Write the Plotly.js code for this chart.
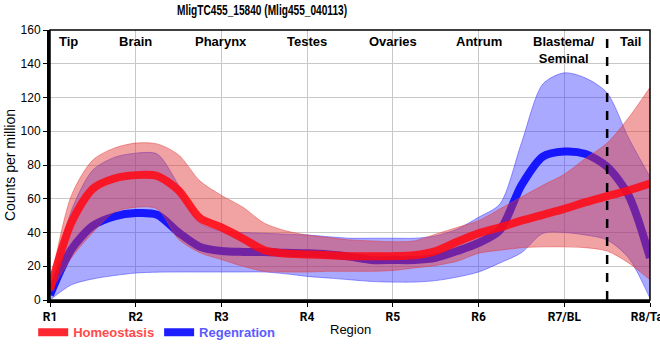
<!DOCTYPE html>
<html>
<head>
<meta charset="utf-8">
<script src="https://cdn.plot.ly/plotly-3.0.1.min.js"></script>
<style>html,body{margin:0;padding:0;background:#fff;}#chart{width:660px;height:360px;}</style>
</head>
<body>
<div id="chart"></div>
<script>
// Region positions (R1 = 0 ... R8 = 7) sampled along the curves
var xs = [0,0.25,0.5,0.75,1,1.25,1.5,1.75,2,2.25,2.5,2.75,3,3.25,3.5,3.75,4,4.25,4.5,4.75,5,5.25,5.5,5.75,6,6.25,6.5,6.75,7];
var tickLabels = ["R1","R2","R3","R4","R5","R6","R7/BL","R8/Tail"];
var regionNames = ["Tip","Brain","Pharynx","Testes","Ovaries","Antrum","Blastema/<br>Seminal","Tail"];
var regionPos = [0.21,1,2,3,4,5,6,6.77];
var xTitle = "Region";
var yTitle = "Counts per million";

var homMean  = [6,46,66,72,74,73.5,65,48.5,43,36.5,29.5,27.5,27,26.5,26,26,26,26.5,29,34.5,39.5,43,47,50.5,54,58,61.5,65,69];
var homUpper = [8,62,83,90,93,92.5,86,70.5,62,55,45.5,41,38.5,37,35.6,35,34.5,35,39,43,47,54,61,68,74.5,84,93,108,126];
var homLower = [4,25,40,52,55,54,36,28,24,20,17,16.6,16.6,17,17,17,17.5,19,20.5,23,27.7,29.5,31,31.5,31.5,31,29,22,12];

var regMean  = [3,30,44,49.5,51.5,50.5,40,31.5,29,28.5,28.5,28,27.7,27,25.7,23.7,23.7,23.7,25,29,33.8,41.5,68,85,88,86.5,79,62,25];
var regUpper = [4,53,77,84.5,87,86.5,68,45.6,41,40,39.5,39,38.5,37.5,36.6,36.6,36.6,36.6,38,42,49,57,93,128,134.6,131.5,122.7,96,73];
var regLower = [0,9,12.5,14.5,16,16.5,16.6,16.6,16.6,16.6,16.6,15.5,14,13,12,11,10.6,10.6,11.5,13.6,16.6,22,28,39.5,40,38.5,35.6,25,1];

var sm = 0.8;
var traces = [
  {x: xs, y: regLower, mode:'lines', line:{color:'rgba(60,60,255,0.5)', width:1, shape:'spline', smoothing:sm}, showlegend:false, hoverinfo:'skip'},
  {x: xs, y: regUpper, mode:'lines', fill:'tonexty', fillcolor:'rgba(50,50,255,0.42)', line:{color:'rgba(60,60,255,0.5)', width:1, shape:'spline', smoothing:sm}, showlegend:false, hoverinfo:'skip'},
  {x: xs, y: regMean, mode:'lines', name:'<span style="color:#5a5aff"><b>Regenration</b></span>', line:{color:'rgba(10,10,255,0.92)', width:8, shape:'spline', smoothing:sm}},
  {x: xs, y: homLower, mode:'lines', line:{color:'rgba(225,60,60,0.5)', width:1, shape:'spline', smoothing:sm}, showlegend:false, hoverinfo:'skip'},
  {x: xs, y: homUpper, mode:'lines', fill:'tonexty', fillcolor:'rgba(225,50,50,0.45)', line:{color:'rgba(225,60,60,0.5)', width:1, shape:'spline', smoothing:sm}, showlegend:false, hoverinfo:'skip'},
  {x: xs, y: homMean, mode:'lines', name:'<span style="color:#ff4a4a"><b>Homeostasis</b></span>', line:{color:'rgba(255,10,20,0.88)', width:8, shape:'spline', smoothing:sm}}
];

var annotations = regionNames.map(function(n,i){
  return {x: regionPos[i], xref:'x', y:1, yref:'paper', yanchor:'top', yshift:-2, text:'<b>'+n+'</b>', showarrow:false,
          font:{family:'Liberation Sans, Arial, sans-serif', size:13, color:'#000'}, align:'center'};
});
annotations.push({x:0.5, xref:'paper', y:-0.111, yref:'paper', yanchor:'middle', text:xTitle, showarrow:false,
          font:{family:'Liberation Sans, Arial, sans-serif', size:13, color:'#000'}});

var layout = {
  width:660, height:360,
  margin:{l:50, r:10, t:30, b:60},
  paper_bgcolor:'#fff', plot_bgcolor:'#fff',
  title:{text:'<b>MligTC455_15840 (Mlig455_040113)</b>', x:0.397, xanchor:'center', y:0.972, yanchor:'middle',
         font:{family:'Liberation Sans Narrow, Arial Narrow, Liberation Sans, sans-serif', size:14, color:'#000'}},
  xaxis:{range:[0,7], tickvals:[0,1,2,3,4,5,6,7], ticktext:tickLabels, showgrid:true, gridcolor:'#c8c8c8', gridwidth:1,
         zeroline:false, showline:true, linecolor:'#000', linewidth:3, ticks:'outside', ticklen:4, tickcolor:'#000',
         ticklabeloverflow:'allow', automargin:false,
         tickfont:{family:'Roboto, Liberation Sans, sans-serif', size:12, color:'#000', weight:'bold'}},
  yaxis:{range:[0,160], dtick:20, showgrid:true, gridcolor:'#c8c8c8', gridwidth:1, zeroline:false,
         showline:true, linecolor:'#000', linewidth:3, ticks:'outside', ticklen:4, tickcolor:'#000',
         tickfont:{family:'Liberation Sans, Arial, sans-serif', size:12, color:'#000'},
         title:{text:yTitle, standoff:2, font:{family:'Liberation Sans, Arial, sans-serif', size:14, color:'#000'}}},
  showlegend:true,
  legend:{orientation:'h', x:-0.028, xanchor:'left', yref:'container', y:0.077, yanchor:'middle', font:{family:'Liberation Sans, Arial, sans-serif', size:13}, traceorder:'reversed', bgcolor:'rgba(0,0,0,0)'},
  shapes:[
    {type:'rect', xref:'paper', yref:'paper', x0:0, x1:1, y0:0, y1:1, line:{color:'#000', width:1.5}, layer:'above'},
    {type:'line', xref:'x', yref:'paper', x0:6.5, x1:6.5, y0:0, y1:1, line:{color:'#000', width:2.5, dash:'dash'}, layer:'above'}
  ],
  annotations: annotations
};

Plotly.newPlot('chart', traces, layout, {displayModeBar:false, staticPlot:true}).then(function(gd){
  var t = gd.querySelector('.gtitle');
  if (t) { t.setAttribute('textLength', '170'); t.setAttribute('lengthAdjust', 'spacingAndGlyphs'); }
});
</script>
</body>
</html>
